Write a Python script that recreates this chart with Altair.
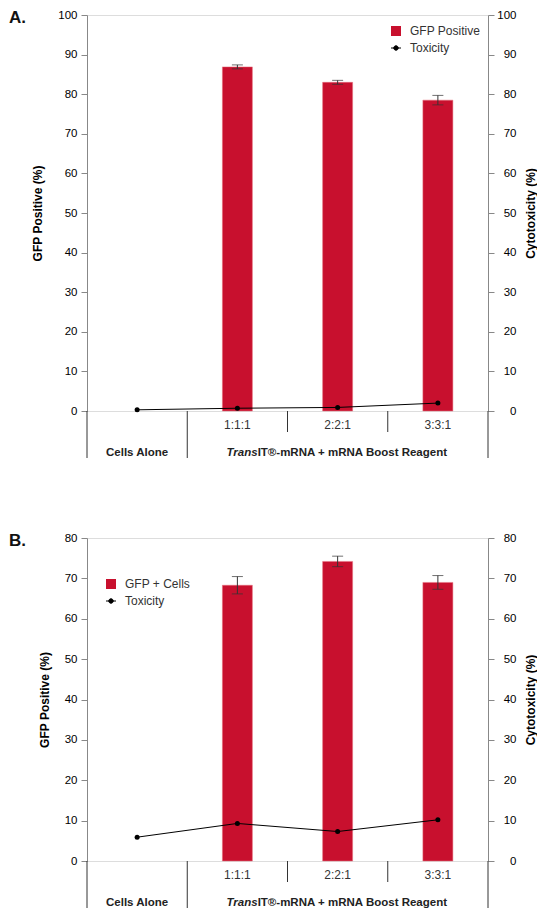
import altair as alt
import pandas as pd

cats = ["Cells Alone", "1:1:1", "2:2:1", "3:3:1"]
treat = ["1:1:1", "2:2:1", "3:3:1"]

gfp_a = [86.9, 83.0, 78.5]
err_a = [0.5, 0.5, 1.2]
tox_a = [0.3, 0.7, 0.9, 2.0]

gfp_b = [68.3, 74.2, 69.0]
err_b = [2.15, 1.3, 1.7]
tox_b = [5.9, 9.3, 7.3, 10.2]

group_cats = ["Cells Alone", "2:2:1"]
group_txt = ["Cells Alone", "IT®-mRNA + mRNA Boost Reagent"]

RED = "#C8102E"
INK = "#333333"
FONT = "Liberation Sans"
W = 401

DOT_PATH = ("M-1,0L1,0M-0.45,0A0.45,0.45,0,1,1,0.45,0"
            "A0.45,0.45,0,1,1,-0.45,0Z")


def panel(label, gfp, err, tox, ymax, h, bar_name, bar_leg_xy, tox_leg_xy):
    bars_df = pd.DataFrame({"cat": treat, "gfp": gfp, "err": err,
                            "series": [bar_name] * 3})
    tox_df = pd.DataFrame({"cat": cats, "tox": tox,
                           "series": ["Toxicity"] * 4})
    xs = alt.Scale(domain=cats, paddingInner=0, paddingOuter=0)
    xaxis = alt.Axis(title=None, ticks=False, domain=False, labelAngle=0,
                     labelExpr="datum.value == 'Cells Alone' ? '' : datum.value",
                     labelPadding=8, labelFontSize=12, labelColor=INK,
                     labelFont=FONT)
    x = alt.X("cat:N", scale=xs, sort=cats, axis=xaxis)
    ticks = list(range(0, ymax + 1, 10))
    yl = alt.Scale(domain=[0, ymax], nice=False)
    yr = alt.Scale(domain=[0, ymax], nice=False)
    laxis = alt.Axis(title="GFP Positive (%)", values=ticks, grid=False,
                     tickSize=6, labelPadding=4, titlePadding=13,
                     labelFontSize=11.5, titleFontSize=12,
                     titleFontWeight="bold")
    raxis = alt.Axis(title="Cytotoxicity (%)", orient="right", values=ticks,
                     grid=False, tickSize=6, labelAlign="right",
                     labelPadding=22, titlePadding=21, titleAngle=270,
                     labelFontSize=11.5, titleFontSize=12,
                     titleFontWeight="bold")

    bb = alt.Chart(bars_df)
    bars = bb.mark_bar(size=30, stroke="#E7707E", strokeWidth=0.5).encode(
        x=x,
        y=alt.Y("gfp:Q", scale=yl, axis=laxis),
        color=alt.Color("series:N",
                        scale=alt.Scale(domain=[bar_name], range=[RED]),
                        legend=alt.Legend(title=None, orient="none",
                                          legendX=bar_leg_xy[0],
                                          legendY=bar_leg_xy[1],
                                          symbolType="square",
                                          symbolSize=100,
                                          symbolStrokeWidth=0,
                                          labelFontSize=12, labelFont=FONT,
                                          labelColor=INK, labelOffset=8,
                                          padding=0)),
    )
    eb = bb.transform_calculate(lo="datum.gfp - datum.err",
                                hi="datum.gfp + datum.err")
    erule = eb.mark_rule(color=INK, strokeWidth=1).encode(
        x=x, y=alt.Y("lo:Q", scale=yl, axis=laxis), y2="hi:Q")
    cap_lo = eb.mark_tick(color=INK, size=11, thickness=1,
                          orient="horizontal").encode(
        x=x, y=alt.Y("lo:Q", scale=yl, axis=laxis))
    cap_hi = eb.mark_tick(color=INK, size=11, thickness=1,
                          orient="horizontal").encode(
        x=x, y=alt.Y("hi:Q", scale=yl, axis=laxis))

    long_l = alt.Chart(pd.DataFrame({"cat": ["Cells Alone", "1:1:1"]})).mark_rule(
        color=INK, strokeWidth=1).encode(
        x=alt.X("cat:N", scale=xs, sort=cats, axis=xaxis, bandPosition=0),
        y=alt.value(h), y2=alt.value(h + 47))
    short_l = alt.Chart(pd.DataFrame({"cat": ["2:2:1", "3:3:1"]})).mark_rule(
        color=INK, strokeWidth=1).encode(
        x=alt.X("cat:N", scale=xs, sort=cats, axis=xaxis, bandPosition=0),
        y=alt.value(h), y2=alt.value(h + 21))
    long_r = alt.Chart(pd.DataFrame({"cat": ["3:3:1"]})).mark_rule(
        color=INK, strokeWidth=1).encode(
        x=alt.X("cat:N", scale=xs, sort=cats, axis=xaxis, bandPosition=1),
        y=alt.value(h), y2=alt.value(h + 47))

    g1 = alt.Chart(pd.DataFrame({"cat": [group_cats[0]], "t": [group_txt[0]]})).mark_text(
        font=FONT, fontSize=11.5, fontWeight="bold", color="#222222",
        baseline="middle", align="center").encode(
        x=x, y=alt.value(h + 42), text="t:N")
    g2a = alt.Chart(pd.DataFrame({"cat": [group_cats[1]], "t": ["Trans"]})).mark_text(
        font=FONT, fontSize=11.5, fontWeight="bold", fontStyle="italic",
        color="#222222", baseline="middle", align="right", dx=-80).encode(
        x=x, y=alt.value(h + 42), text="t:N")
    g2b = alt.Chart(pd.DataFrame({"cat": [group_cats[1]], "t": [group_txt[1]]})).mark_text(
        font=FONT, fontSize=11.5, fontWeight="bold", color="#222222",
        baseline="middle", align="left", dx=-80).encode(
        x=x, y=alt.value(h + 42), text="t:N")

    plabel = alt.Chart(pd.DataFrame({"t": [label]})).mark_text(
        font=FONT, fontSize=17, fontWeight="bold", color="#111111",
        align="left", baseline="middle").encode(
        x=alt.value(-78), y=alt.value(3), text="t:N")

    left = alt.layer(bars, erule, cap_lo, cap_hi, long_l, short_l, long_r,
                     g1, g2a, g2b, plabel)

    tb = alt.Chart(tox_df)
    line = tb.mark_line(color="black", strokeWidth=1).encode(
        x=x, y=alt.Y("tox:Q", scale=yr, axis=raxis))
    pts = tb.mark_circle(size=25, opacity=1).encode(
        x=x, y=alt.Y("tox:Q", scale=yr, axis=raxis),
        color=alt.Color("series:N",
                        scale=alt.Scale(domain=["Toxicity"], range=["black"]),
                        legend=alt.Legend(title=None, orient="none",
                                          legendX=tox_leg_xy[0],
                                          legendY=tox_leg_xy[1],
                                          symbolType=DOT_PATH,
                                          symbolSize=100,
                                          symbolStrokeColor="black",
                                          symbolFillColor="black",
                                          symbolStrokeWidth=1,
                                          labelFontSize=12, labelFont=FONT,
                                          labelColor=INK, labelOffset=8,
                                          padding=0)),
    )
    right = alt.layer(line, pts)

    return alt.layer(left, right).resolve_scale(
        y="independent", color="independent").properties(width=W, height=h)


pa = panel("A.", gfp_a, err_a, tox_a, 100, 396, "GFP Positive",
           (303, 10), (303, 27))
pb = panel("B.", gfp_b, err_b, tox_b, 80, 323, "GFP + Cells",
           (18, 40), (18, 57))

chart = alt.vconcat(pa, pb, spacing=127, bounds="flush").properties(
    padding={"left": 0, "top": 0, "right": 0, "bottom": 0}
).configure_view(stroke=INK, strokeWidth=1).configure_axis(
    domainColor=INK, tickColor=INK, labelColor=INK, titleColor="#222222",
    labelFont=FONT, titleFont=FONT
).configure(background="white")

chart.save("out.html", embed_options={"renderer": "svg", "actions": False})
